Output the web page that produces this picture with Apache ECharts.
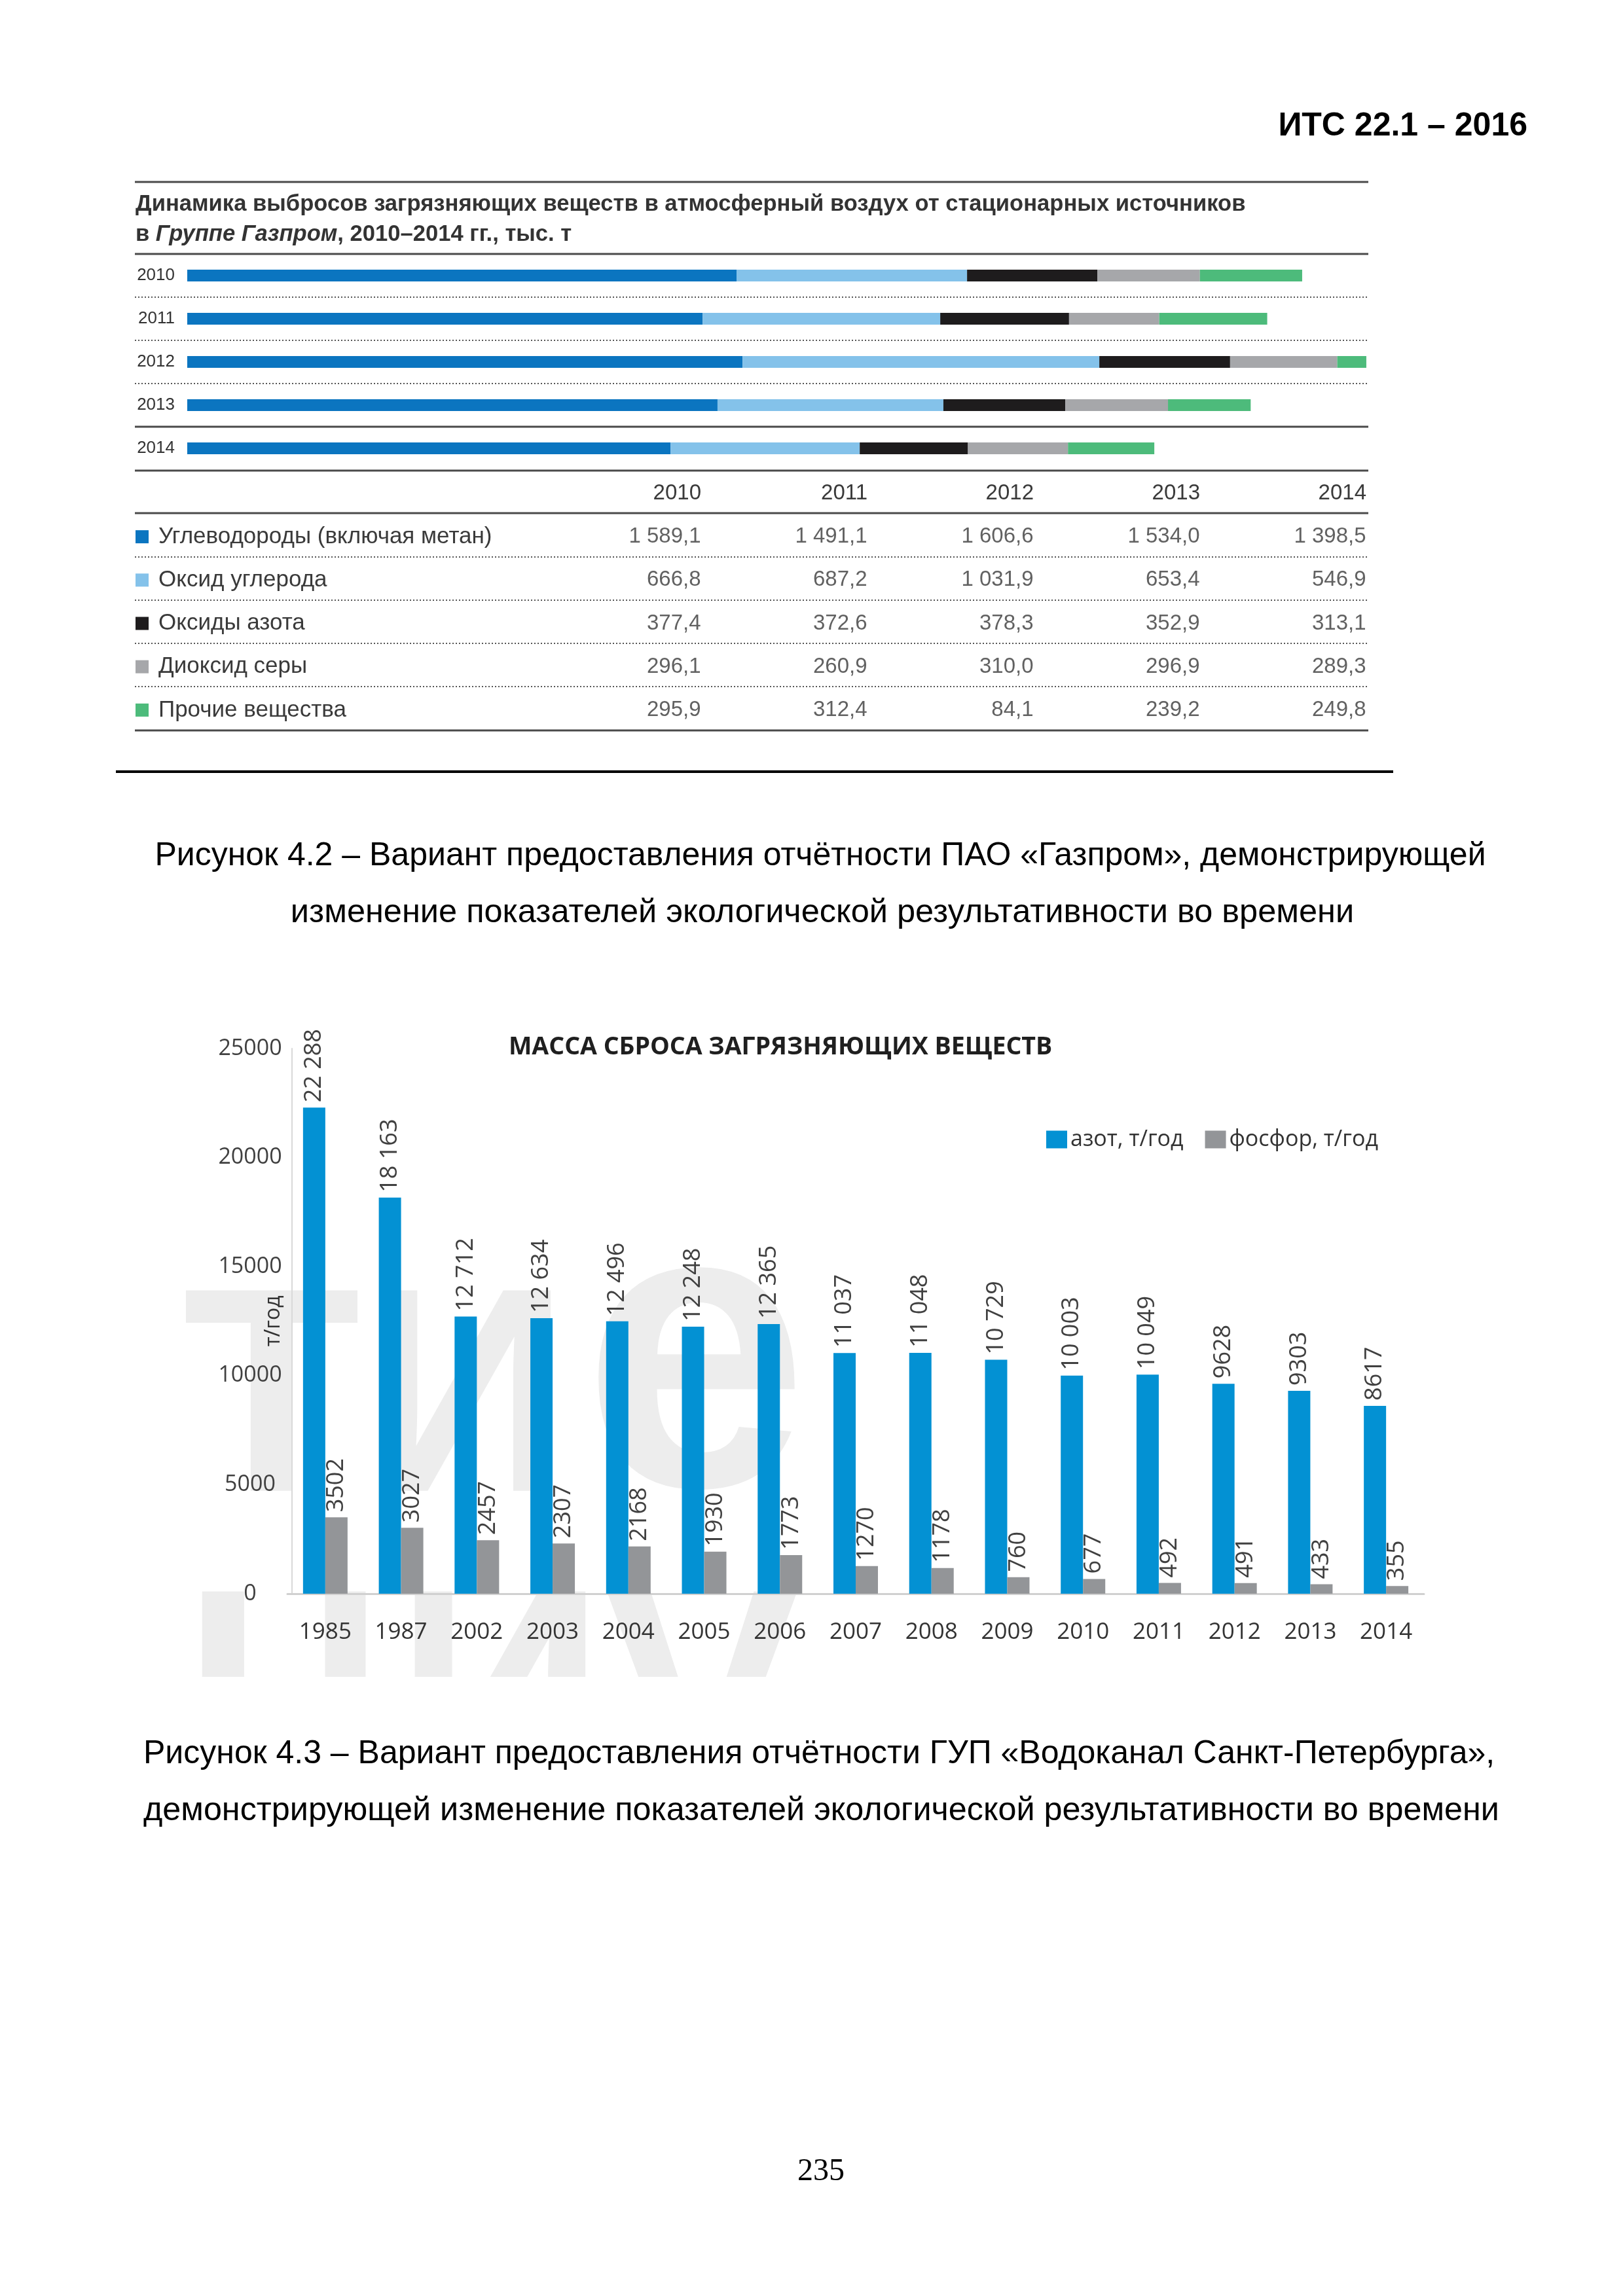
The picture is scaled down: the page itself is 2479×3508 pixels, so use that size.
<!DOCTYPE html>
<html><head><meta charset="utf-8">
<script src="https://cdn.jsdelivr.net/npm/echarts@6/dist/echarts.min.js"></script>
<style>html,body{margin:0;padding:0;background:#fff}#c{width:2479px;height:3508px}</style>
</head><body><div id="c"></div>
<script>
// ---------- Gazprom (Рисунок 4.2) ----------
const gzYears = ['2010', '2011', '2012', '2013', '2014'];
const gzNames = ['Углеводороды (включая метан)', 'Оксид углерода', 'Оксиды азота', 'Диоксид серы', 'Прочие вещества'];
const gzHydrocarbons = [1589.1, 1491.1, 1606.6, 1534.0, 1398.5];
const gzCO = [666.8, 687.2, 1031.9, 653.4, 546.9];
const gzNOx = [377.4, 372.6, 378.3, 352.9, 313.1];
const gzSO2 = [296.1, 260.9, 310.0, 296.9, 289.3];
const gzOther = [295.9, 312.4, 84.1, 239.2, 249.8];
const gzColors = ['#0b75c0', '#84c2ea', '#1e1c1d', '#a6a7aa', '#4dbb7b'];

// ---------- Vodokanal (Рисунок 4.3) ----------
const vkYears = ['1985', '1987', '2002', '2003', '2004', '2005', '2006', '2007', '2008', '2009', '2010', '2011', '2012', '2013', '2014'];
const vkNitrogen = [22288, 18163, 12712, 12634, 12496, 12248, 12365, 11037, 11048, 10729, 10003, 10049, 9628, 9303, 8617];
const vkPhosphorus = [3502, 3027, 2457, 2307, 2168, 1930, 1773, 1270, 1178, 760, 677, 492, 491, 433, 355];
const vkSeriesNames = ['азот, т/год', 'фосфор, т/год'];
const vkColors = ['#0391d3', '#939598'];

const FG = 'Liberation Sans, Arial, sans-serif';
const FV = 'Open Sans, sans-serif';

function fmtRu(v) {
  let [i, d] = v.toFixed(1).split('.');
  i = i.replace(/\B(?=(\d{3})+(?!\d))/g, ' ');
  return i + ',' + d;
}
function fmtK(v) {
  return v >= 10000 ? String(v).replace(/\B(?=(\d{3})+(?!\d))/g, ' ') : String(v);
}

const gzSeriesData = [gzHydrocarbons, gzCO, gzNOx, gzSO2, gzOther];
const tableData = [];
gzSeriesData.forEach((arr, i) => arr.forEach((v, j) => tableData.push([j, i, v])));

const rich = { t: { fontSize: 35, fontFamily: FG, color: '#3a3a3a', padding: [0, 0, 0, 15] } };
gzColors.forEach((c, i) => { rich['s' + i] = { width: 20, height: 20, backgroundColor: c }; });

function hline(y, x1, x2, w, dash, color) {
  return { type: 'line', z: 10, silent: true, shape: { x1: x1, y1: y, x2: x2, y2: y },
    style: { stroke: color || '#4a4a4a', lineWidth: w, lineDash: dash || null } };
}
function txt(text, x, y, size, opts) {
  return { type: 'text', z: 10, silent: true,
    style: Object.assign({ text: text, x: x, y: y, fontSize: size, fontFamily: FG, fill: '#000',
      align: 'left', verticalAlign: 'middle' }, (opts || {})) };
}

const graphics = [
  // watermark
  { type: 'text', z: -10, silent: true, style: { text: 'ТИ', x: 279, y: 2155, fontSize: 445, fontWeight: 'bold', fontFamily: FG, fill: '#ededed', align: 'left', verticalAlign: 'middle' } },
  { type: 'text', z: -10, silent: true, style: { text: 'e', x: 890, y: 2099, fontSize: 620, fontWeight: 'bold', fontFamily: FG, fill: '#ededed', align: 'left', verticalAlign: 'middle' } },
  { type: 'text', z: -10, silent: true, style: { text: 'ЦИV', x: 279, y: 2615, fontSize: 445, fontWeight: 'bold', fontFamily: FG, fill: '#ededed', align: 'left', verticalAlign: 'middle' } },
  { type: 'rect', z: -9, silent: true, shape: { x: 150, y: 2562, width: 1300, height: 420 }, style: { fill: '#fff' } },

  // header
  txt('ИТС 22.1 – 2016', 2333, 193, 50, { fontWeight: 'bold', align: 'right' }),

  // Gazprom title & rules
  hline(278, 206, 2090, 3),
  txt('Динамика выбросов загрязняющих веществ в атмосферный воздух от стационарных источников', 207, 312, 34.6, { fontWeight: 'bold', fill: '#333' }),
  txt('{b|в }{i|Группе Газпром}{b|, 2010–2014 гг., тыс. т}', 207, 358, 34.6, { fill: '#333',
    rich: { b: { fontSize: 34.6, fontWeight: 'bold', fontFamily: FG, fill: '#333' },
            i: { fontSize: 34.6, fontWeight: 'bold', fontStyle: 'italic', fontFamily: FG, fill: '#333' } } }),
  hline(388, 206, 2090, 3),
  hline(454, 206, 2090, 2, [2, 3], '#555'),
  hline(520, 206, 2090, 2, [2, 3], '#555'),
  hline(586, 206, 2090, 2, [2, 3], '#555'),
  hline(652, 206, 2090, 3),
  hline(719, 206, 2090, 3),
  hline(784, 206, 2090, 3),
  hline(851, 206, 2090, 2, [2, 3], '#555'),
  hline(917, 206, 2090, 2, [2, 3], '#555'),
  hline(983, 206, 2090, 2, [2, 3], '#555'),
  hline(1049, 206, 2090, 2, [2, 3], '#555'),
  hline(1116, 206, 2090, 3),
  hline(1179, 177, 2128, 4, null, '#000'),

  // caption 4.2
  txt('Рисунок 4.2 – Вариант предоставления отчётности ПАО «Газпром», демонстрирующей', 1253, 1308, 50, { align: 'center' }),
  txt('изменение показателей экологической результативности во времени', 1256, 1395, 50.5, { align: 'center' }),

  // Vodokanal chart title
  txt('МАССА СБРОСА ЗАГРЯЗНЯЮЩИХ ВЕЩЕСТВ', 777, 1600, 37.5, { fontFamily: FV, fontWeight: 'bold', fill: '#1f1f1f' }),

  // caption 4.3
  txt('Рисунок 4.3 – Вариант предоставления отчётности ГУП «Водоканал Санкт-Петербурга»,', 219, 2680, 50),
  txt('демонстрирующей изменение показателей экологической результативности во времени', 219, 2767, 50.3),

  // page number
  txt('235', 1254, 3318, 48, { fontFamily: 'Liberation Serif, Times New Roman, serif', align: 'center' })
];

const option = {
  backgroundColor: '#fff',
  animation: false,
  grid: [
    { left: 286, top: 388, width: 1801, height: 330 },
    { left: 1071, top: 787, width: 1016, height: 331 },
    { left: 439, top: 1602, width: 1736, height: 833 }
  ],
  xAxis: [
    { gridIndex: 0, type: 'value', min: 0, max: 3411, show: false },
    { gridIndex: 1, type: 'category', data: gzYears, boundaryGap: false, position: 'top',
      axisLine: { show: false }, axisTick: { show: false }, splitLine: { show: false },
      axisLabel: { interval: 0, align: 'right', margin: 17, fontSize: 33, fontFamily: FG, color: '#3a3a3a' } },
    { gridIndex: 2, type: 'category', data: vkYears,
      axisLine: { show: true, lineStyle: { color: '#d0d0d0', width: 3 } }, axisTick: { show: false },
      axisLabel: { interval: 0, margin: 42, fontSize: 35, fontFamily: FV, color: '#333' } }
  ],
  yAxis: [
    { gridIndex: 0, type: 'category', data: gzYears, inverse: true,
      axisLine: { show: false }, axisTick: { show: false },
      axisLabel: { margin: 19, fontSize: 26, fontFamily: FG, color: '#333' } },
    { gridIndex: 1, type: 'category', data: gzNames, inverse: true,
      axisLine: { show: false }, axisTick: { show: false }, splitLine: { show: false },
      axisLabel: { interval: 0, align: 'left', margin: 864, formatter: (v, i) => '{s' + i + '|}{t|' + v + '}', rich: rich } },
    { gridIndex: 2, type: 'value', min: 0, max: 25000, interval: 5000, offset: -7,
      axisLine: { show: true, lineStyle: { color: '#d9d9d9', width: 2 } }, axisTick: { show: false },
      splitLine: { show: false },
      axisLabel: { align: 'center', margin: 64, fontSize: 34, fontFamily: FV, color: '#404040', formatter: v => String(v) },
      name: 'т/год', nameLocation: 'middle', nameRotate: 90, nameGap: 12, nameMoveOverlap: false,
      nameTextStyle: { fontSize: 32, fontFamily: FV, color: '#333' } }
  ],
  legend: {
    data: vkSeriesNames, left: 1593, top: 1719, itemWidth: 32, itemHeight: 27, itemGap: 33,
    icon: 'rect', textStyle: { fontSize: 34, fontFamily: FV, color: '#333' }
  },
  graphic: graphics,
  series: gzSeriesData.map((d, i) => ({
    type: 'bar', name: gzNames[i], xAxisIndex: 0, yAxisIndex: 0, stack: 'gz', data: d,
    barWidth: 18, itemStyle: { color: gzColors[i] }, silent: true
  })).concat([
    { type: 'scatter', name: 'table', xAxisIndex: 1, yAxisIndex: 1, data: tableData, symbolSize: 1,
      itemStyle: { color: 'rgba(0,0,0,0)' }, silent: true,
      label: { show: true, position: 'left', distance: 0, formatter: p => fmtRu(p.value[2]),
        fontSize: 33, fontFamily: FG, color: '#3a3a3a' } },
    { type: 'bar', name: vkSeriesNames[0], xAxisIndex: 2, yAxisIndex: 2, data: vkNitrogen,
      barWidth: 34, barGap: '0%', itemStyle: { color: vkColors[0] },
      label: { show: true, position: 'top', rotate: 90, align: 'left', verticalAlign: 'middle', distance: 8,
        formatter: p => fmtK(p.value), fontSize: 36, fontFamily: FV, color: '#404040' } },
    { type: 'bar', name: vkSeriesNames[1], xAxisIndex: 2, yAxisIndex: 2, data: vkPhosphorus,
      barWidth: 34, barGap: '0%', itemStyle: { color: vkColors[1] },
      label: { show: true, position: 'top', rotate: 90, align: 'left', verticalAlign: 'middle', distance: 8,
        formatter: p => fmtK(p.value), fontSize: 36, fontFamily: FV, color: '#404040' } }
  ])
};

const chart = echarts.init(document.getElementById('c'), null, { renderer: 'canvas' });
chart.setOption(option);
</script>
</body></html>
